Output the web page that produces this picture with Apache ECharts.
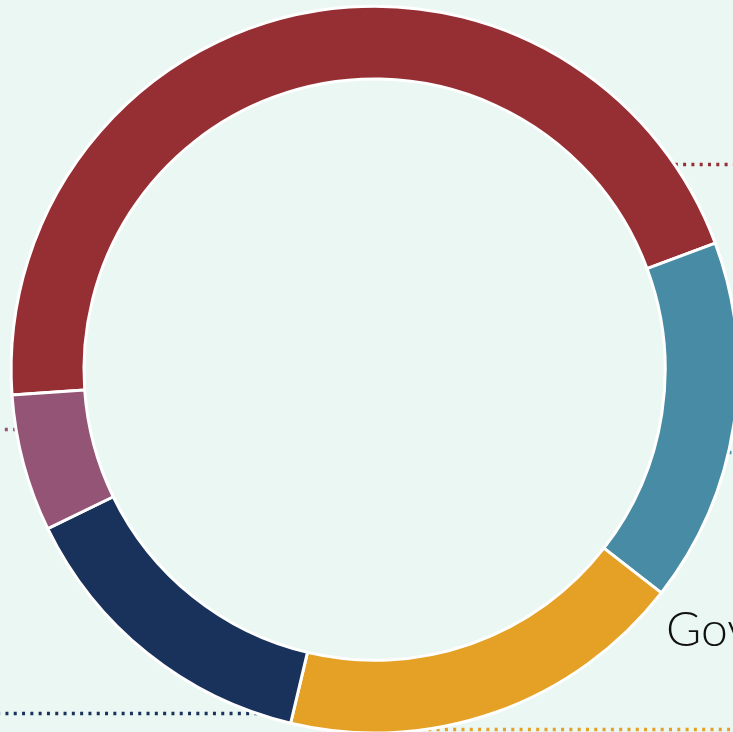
<!DOCTYPE html>
<html>
<head>
<meta charset="utf-8">
<script src="https://cdn.jsdelivr.net/npm/echarts@6/dist/echarts.min.js"></script>
<style>
  html, body { margin: 0; padding: 0; background: #EBF7F3; }
  #chart { width: 733px; height: 732px; }
</style>
</head>
<body>
<div id="chart"></div>
<script>
// ---- data ----
const categories = ['Private', 'Business', 'Government', 'Households', 'Other'];
const values = [45.5, 16.2, 18.2, 14.1, 6.1];

// ---- styling / layout (not data) ----
const colors = ['#962F34', '#478CA4', '#E5A126', '#19325C', '#935475'];
// angle (deg, clockwise from 12 o'clock) where each label's leader line meets the ring
const leaderAngles = [55.7, 103.2, 171.5, 198.8, 260.5];
const centerPct = [0.511, 0.505];
const radiusPct = [0.794, 0.993];

const chart = echarts.init(document.getElementById('chart'), null, { renderer: 'canvas' });

function geom() {
  const W = chart.getWidth(), H = chart.getHeight();
  const half = Math.min(W, H) / 2;
  return { W, H, cx: W * centerPct[0], cy: H * centerPct[1], R: half * radiusPct[1] };
}

const option = {
  backgroundColor: '#EBF7F3',
  animation: false,
  series: [{
    type: 'pie',
    center: [(centerPct[0] * 100) + '%', (centerPct[1] * 100) + '%'],
    radius: [(radiusPct[0] * 100) + '%', (radiusPct[1] * 100) + '%'],
    startAngle: 184,
    clockwise: true,
    avoidLabelOverlap: false,
    itemStyle: { borderColor: '#ffffff', borderWidth: 3 },
    emphasis: { disabled: true },
    label: {
      show: true,
      position: 'outside',
      formatter: '{b}',
      fontFamily: 'Lato, "Open Sans", sans-serif',
      fontWeight: 300,
      fontSize: 48,
      color: '#111111'
    },
    labelLine: {
      show: true,
      length: 10,
      length2: 10,
      lineStyle: { width: 3.4, type: [3, 5.3], cap: 'butt', opacity: 1 }
    },
    labelLayout: function (params) {
      const g = geom();
      const i = params.dataIndex;
      const a = leaderAngles[i] * Math.PI / 180;
      const sx = g.cx + g.R * Math.sin(a);
      const sy = Math.floor(g.cy - g.R * Math.cos(a)) + 0.5;
      const right = Math.sin(a) >= 0;
      const ex = right ? g.W + 40 : -40;
      let tx = right ? g.W + 20 : -20;
      let ty = sy - 40;
      if (i === 2) { tx = 666; ty = sy - 99; }
      return {
        x: tx,
        y: ty,
        align: right ? 'left' : 'right',
        verticalAlign: 'middle',
        labelLinePoints: [[sx, sy], [ex, sy]]
      };
    },
    data: categories.map((n, i) => ({ name: n, value: values[i], itemStyle: { color: colors[i] } }))
  }]
};
chart.setOption(option);
</script>
</body>
</html>
